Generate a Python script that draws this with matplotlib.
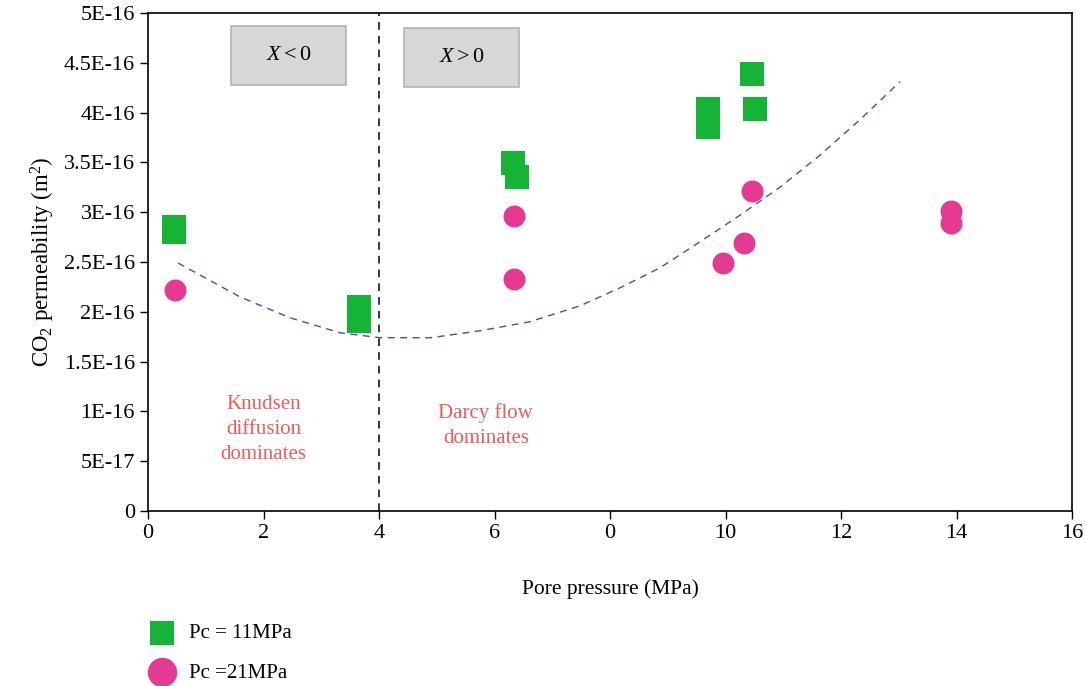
import numpy as np
import matplotlib
matplotlib.use("Agg")
import matplotlib.pyplot as plt
from matplotlib.patches import Rectangle

plt.rcParams['font.family'] = ['Liberation Serif', 'DejaVu Serif']
plt.rcParams['mathtext.fontset'] = 'custom'
plt.rcParams['mathtext.rm'] = 'Liberation Serif'
plt.rcParams['mathtext.it'] = 'Liberation Serif:italic'

# data (permeability in units of 1e-16 m2)
pc11_x = [0.45, 0.45, 3.66, 3.66, 6.32, 6.39, 9.70, 9.70, 10.46, 10.51]
pc11_y = [2.85, 2.80, 2.05, 1.91, 3.49, 3.35, 4.04, 3.86, 4.385, 4.04]

pc21_x = [0.46, 6.33, 6.33, 9.96, 10.32, 10.46, 13.91, 13.91]
pc21_y = [2.22, 2.96, 2.33, 2.49, 2.69, 3.21, 3.01, 2.89]

trend_x = [0.52, 1.59, 2.46, 3.32, 4.01, 4.90, 5.75, 6.61, 7.48, 8.17,
           8.86, 9.55, 10.25, 10.94, 11.63, 12.33, 13.02]
trend_y = [2.49, 2.15, 1.94, 1.79, 1.74, 1.74, 1.81, 1.90, 2.06, 2.24,
           2.44, 2.70, 2.97, 3.25, 3.57, 3.93, 4.31]

xticks = [0, 2, 4, 6, 8, 10, 12, 14, 16]
xtick_labels = ['0', '2', '4', '6', '0', '10', '12', '14', '16']
yticks = [0, 0.5, 1, 1.5, 2, 2.5, 3, 3.5, 4, 4.5, 5]
ytick_labels = ['0', '5E-17', '1E-16', '1.5E-16', '2E-16', '2.5E-16',
                '3E-16', '3.5E-16', '4E-16', '4.5E-16', '5E-16']

green = '#15B336'
pink = '#E43A92'
red_text = '#EF5B5B'

fig = plt.figure(figsize=(10.87, 6.86), dpi=100)
ax = fig.add_axes([0.1362, 0.2551, 0.85, 0.7259])

ax.plot(trend_x, trend_y, ls=(0, (5, 4)), color='#3A55A4', lw=1.0, zorder=2)
ax.axvline(4, color='black', ls=(0, (5, 4)), lw=1.1, zorder=1)

ax.scatter(pc11_x, pc11_y, marker='s', s=275, color=green, linewidths=0,
           zorder=3, label='Pc = 11MPa')
ax.scatter(pc21_x, pc21_y, marker='o', s=250, color=pink, linewidths=0,
           zorder=3, label='Pc =21MPa')

# gray boxes
for x0, y0, txt in [(1.43, 4.28, '$X < 0$'), (4.43, 4.26, '$X > 0$')]:
    ax.add_patch(Rectangle((x0, y0), 2.0, 0.59, facecolor='#D8D6D7',
                           edgecolor='#B3B3B3', lw=1.2, zorder=2))
    ax.text(x0 + 1.0, y0 + 0.295, txt, ha='center', va='center',
            fontsize=16, zorder=3)

ax.text(2.0, 0.82, 'Knudsen\ndiffusion\ndominates', color=red_text,
        ha='center', va='center', fontsize=15, linespacing=1.45)
ax.text(5.85, 0.86, 'Darcy flow\ndominates', color=red_text,
        ha='center', va='center', fontsize=15, linespacing=1.45)

ax.set_xlim(0, 16)
ax.set_ylim(0, 5)
ax.set_xticks(xticks)
ax.set_xticklabels(xtick_labels)
ax.set_yticks(yticks)
ax.set_yticklabels(ytick_labels)
ax.tick_params(direction='out', length=6, width=1, labelsize=16, colors='black')
for sp in ax.spines.values():
    sp.set_linewidth(1.2)

ax.set_xlabel('Pore pressure (MPa)', fontsize=15.5, labelpad=26)
ax.set_ylabel('CO$_2$ permeability (m$^2$)', fontsize=16.5, labelpad=5)

leg = fig.legend(loc='upper left', bbox_to_anchor=(0.1225, 0.103),
                 frameon=False, fontsize=15, handletextpad=0.3,
                 labelspacing=0.95, borderaxespad=0)
leg.legend_handles[0].set_sizes([300])
leg.legend_handles[1].set_sizes([450])

fig.savefig('out.png', dpi=100)
